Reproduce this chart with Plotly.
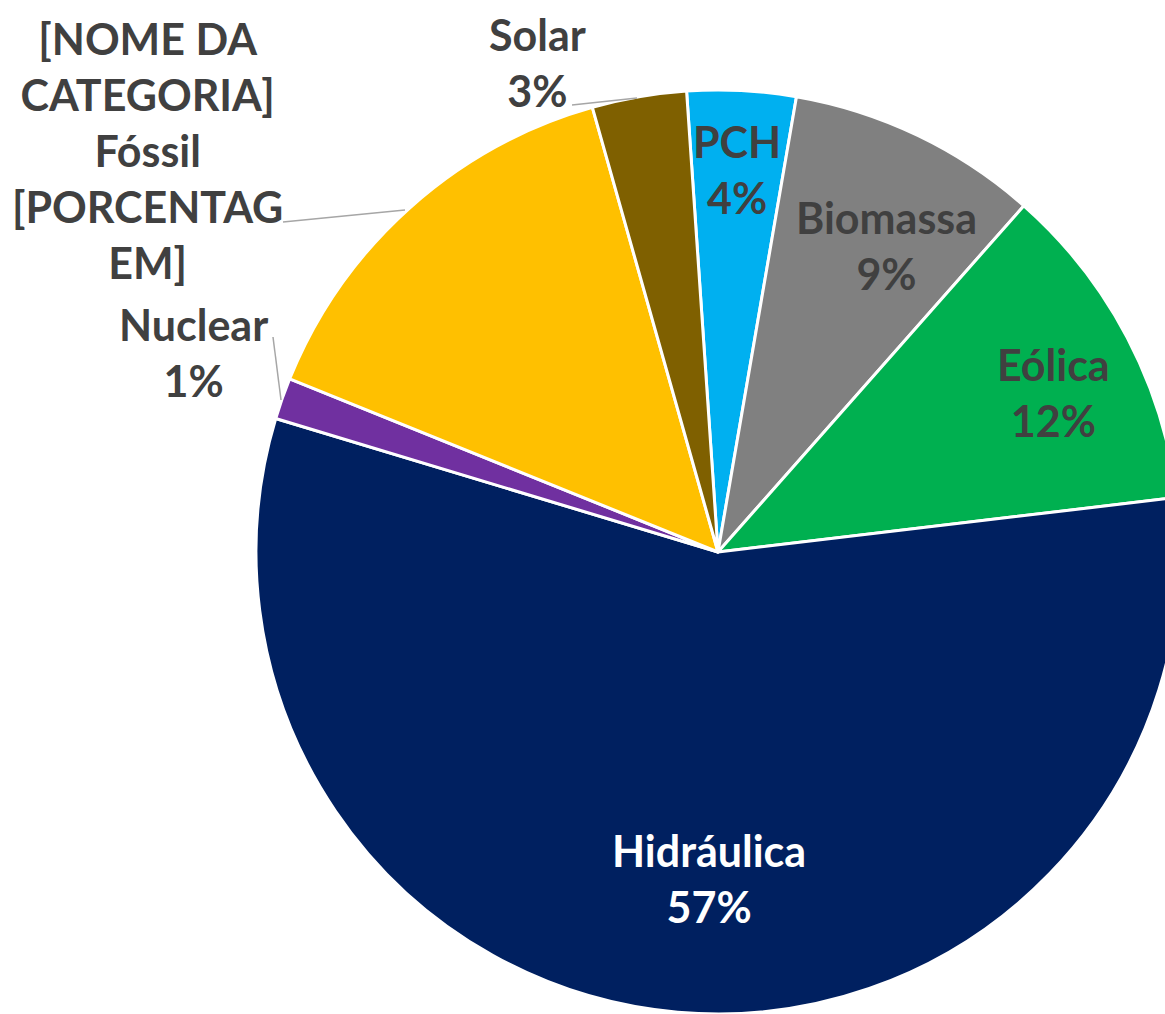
import plotly.graph_objects as go

# ---- data ----
categories = ["PCH", "Biomassa", "Eólica", "Hidráulica", "Nuclear", "Fóssil", "Solar"]
shares = [3.8, 8.8, 11.6, 56.55, 1.45, 14.5, 3.3]
colors = ["#00B0F0", "#808080", "#00B050", "#002060", "#7030A0", "#FFC000", "#7F6000"]
label_colors = ["#404040", "#404040", "#404040", "#FFFFFF", "#404040", "#404040", "#404040"]
fossil_label = "[NOME DA<br>CATEGORIA]<br>Fóssil<br>[PORCENTAG<br>EM]"

# ---- layout geometry (pixels) ----
W, H = 1200, 1040
ML, MR, MT, MB = 256, W - 1180, 90, H - 1014
PW, PH = W - ML - MR, H - MT - MB


def px(x):
    return (x - ML) / PW


def py(y):
    return (MT + PH - y) / PH


label_pos = {
    "PCH": (737, 170),
    "Biomassa": (886, 246),
    "Eólica": (1053, 392),
    "Hidráulica": (709, 878),
    "Nuclear": (193, 352),
    "Fóssil": (147, 150),
    "Solar": (537, 62),
}

fig = go.Figure(
    go.Pie(
        labels=categories,
        values=shares,
        sort=False,
        direction="clockwise",
        rotation=-3.9,
        marker=dict(colors=colors, line=dict(color="#FFFFFF", width=3)),
        textinfo="none",
        hoverinfo="label+percent",
        showlegend=False,
    )
)

annotations = []
for cat, val, col in zip(categories, shares, label_colors):
    if cat == "Fóssil":
        txt = fossil_label
    else:
        txt = f"{cat}<br>{round(val)}%"
    x, y = label_pos[cat]
    annotations.append(
        dict(
            text=txt,
            x=px(x), y=py(y), xref="paper", yref="paper",
            xanchor="center", yanchor="middle", align="center",
            showarrow=False,
            font=dict(family="Lato", size=43, color=col, weight="bold"),
        )
    )

leaders = [
    ((572, 105), (637, 98)),
    ((283, 222), (405, 210)),
    ((273, 337), (281, 400)),
]
shapes = [
    dict(type="line", xref="paper", yref="paper",
         x0=px(a[0]), y0=py(a[1]), x1=px(b[0]), y1=py(b[1]),
         line=dict(color="#A6A6A6", width=1.5))
    for a, b in leaders
]

fig.update_layout(
    width=W, height=H,
    margin=dict(l=ML, r=MR, t=MT, b=MB, pad=0),
    paper_bgcolor="#FFFFFF",
    plot_bgcolor="#FFFFFF",
    annotations=annotations,
    shapes=shapes,
)

fig.write_html(
    "out.html",
    config={"displayModeBar": False},
    post_script="document.body.style.margin='0';document.body.style.overflow='hidden';document.documentElement.style.overflow='hidden';",
)
